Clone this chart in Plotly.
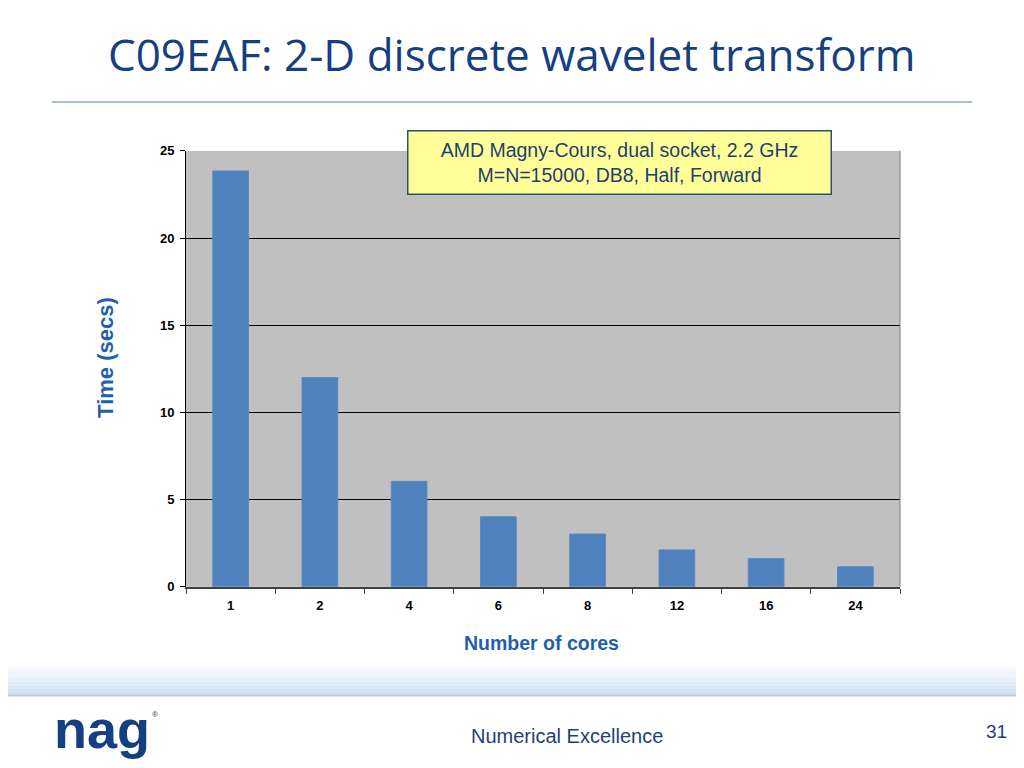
import plotly.graph_objects as go

cores = ["1", "2", "4", "6", "8", "12", "16", "24"]
times = [23.85, 12.0, 6.05, 4.02, 3.03, 2.12, 1.62, 1.15]
y_ticks = [0, 5, 10, 15, 20, 25]

W, H = 1024, 768
# calibration of page offset observed in rendering
def px(x):
    return (x - 8) / W
def py(y):
    return 1 - ((y - 13.5) / 0.985) / H

fig = go.Figure()
fig.add_trace(go.Bar(
    x=cores, y=times,
    marker=dict(color="#4F81BD", line=dict(color="#5A8AC6", width=1)),
    hoverinfo="x+y",
))

shapes = []
# title underline
shapes.append(dict(type="line", xref="paper", yref="paper",
                   x0=px(52), x1=px(972), y0=py(101), y1=py(101),
                   line=dict(color="#8EA9C9", width=1.5)))
# bottom gradient band
n = 24
top, bot = 664, 697
c0 = (255, 255, 255)
c1 = (203, 220, 242)
for i in range(n):
    t = i / (n - 1)
    col = tuple(int(round(c0[k] + (c1[k] - c0[k]) * t)) for k in range(3))
    y0 = top + (bot - top) * i / n
    y1 = top + (bot - top) * (i + 1) / n
    shapes.append(dict(type="rect", xref="paper", yref="paper",
                       x0=-0.02, x1=1.02, y0=py(y1), y1=py(y0),
                       fillcolor="rgb(%d,%d,%d)" % col, line=dict(width=0), layer="below"))
shapes.append(dict(type="line", xref="paper", yref="paper",
                   x0=-0.02, x1=1.02, y0=py(697.5), y1=py(697.5),
                   line=dict(color="#B7C7DA", width=1.5)))
# plot right border
shapes.append(dict(type="line", xref="paper", yref="paper",
                   x0=px(900), x1=px(900), y0=py(588), y1=py(150),
                   line=dict(color="#808080", width=1)))

annotations = [
    dict(text="C09EAF: 2-D discrete wavelet transform", xref="paper", yref="paper",
         x=px(511), y=py(53), xanchor="center", yanchor="middle", showarrow=False,
         font=dict(family="Open Sans, Noto Sans, sans-serif", size=44, color="#143F80")),
    dict(text="AMD Magny-Cours, dual socket, 2.2 GHz<br>M=N=15000, DB8, Half, Forward",
         xref="paper", yref="paper", x=px(619), y=py(162), xanchor="center", yanchor="middle",
         showarrow=False, align="center",
         font=dict(family="Liberation Sans, Arial, sans-serif", size=19.5, color="#1F3F6F"),
         bgcolor="#FFFF99", bordercolor="#2F4F6F", borderwidth=1.5, borderpad=4,
         width=414, height=54),
    dict(text="<b>Time (secs)</b>", xref="paper", yref="paper", x=px(106), y=py(358),
         xanchor="center", yanchor="middle", textangle=-90, showarrow=False,
         font=dict(family="Liberation Sans, Arial, sans-serif", size=22, color="#1F5FAD")),
    dict(text="<b>Number of cores</b>", xref="paper", yref="paper", x=px(541), y=py(644),
         xanchor="center", yanchor="middle", showarrow=False,
         font=dict(family="Liberation Sans, Arial, sans-serif", size=19.5, color="#1F5FAD")),
    dict(text="Numerical Excellence", xref="paper", yref="paper", x=px(567), y=py(738),
         xanchor="center", yanchor="middle", showarrow=False,
         font=dict(family="Liberation Sans Narrow, Liberation Sans, Arial, sans-serif", size=20, color="#1F3F7A")),
    dict(text="31", xref="paper", yref="paper", x=px(996), y=py(733),
         xanchor="center", yanchor="middle", showarrow=False,
         font=dict(family="Liberation Sans Narrow, Liberation Sans, Arial, sans-serif", size=19, color="#1F3F7A")),
    dict(text="<b>nag</b>", xref="paper", yref="paper", x=px(102), y=py(731),
         xanchor="center", yanchor="middle", showarrow=False,
         font=dict(family="Liberation Sans Narrow, Liberation Sans, Arial, sans-serif", size=54, color="#143F80")),
    dict(text="®", xref="paper", yref="paper", x=px(150), y=py(716),
         xanchor="left", yanchor="middle", showarrow=False,
         font=dict(family="Liberation Sans, Arial, sans-serif", size=8, color="#143F80")),
]

fig.update_layout(
    width=W, height=H,
    margin=dict(l=0, r=0, t=0, b=0),
    paper_bgcolor="white",
    plot_bgcolor="#C0C0C0",
    showlegend=False,
    bargap=0.6,
    shapes=shapes,
    annotations=annotations,
    xaxis=dict(domain=[px(186), px(900)], type="category",
               tickson="boundaries", ticks="outside", ticklen=5, tickcolor="#404040",
               showline=True, linecolor="#404040", linewidth=1.5,
               showgrid=False, zeroline=False,
               tickfont=dict(family="Liberation Sans, Arial, sans-serif", size=13, color="black", weight="bold"),
               ticklabelstandoff=6, fixedrange=True),
    yaxis=dict(domain=[py(588), py(150)], range=[0, 25], tickvals=y_ticks,
               ticks="outside", ticklen=5, tickcolor="black",
               showline=True, linecolor="black", linewidth=1,
               showgrid=True, gridcolor="black", gridwidth=1, zeroline=False,
               tickfont=dict(family="Liberation Sans, Arial, sans-serif", size=13, color="black", weight="bold"),
               ticklabelstandoff=3, fixedrange=True),
)

fig.write_html("out.html")
